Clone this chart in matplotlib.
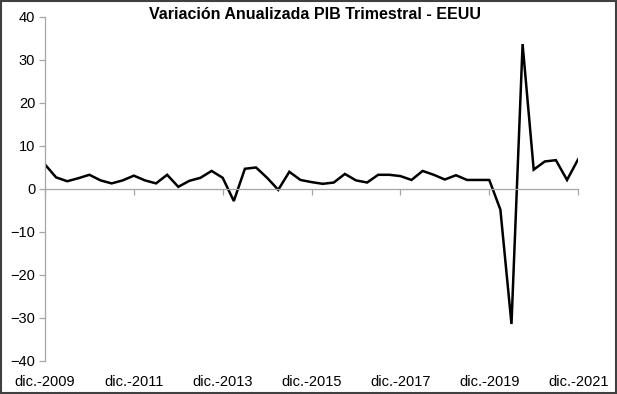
import numpy as np
import matplotlib
matplotlib.use('Agg')
import matplotlib.pyplot as plt
from matplotlib.patches import Rectangle

plt.rcParams['font.family'] = ['Liberation Sans', 'DejaVu Sans']

# quarterly annualized GDP change, dic.-2009 .. dic.-2021
pib = [5.7, 2.7, 1.8, 2.5, 3.3, 2.0, 1.3, 2.0, 3.1, 2.0, 1.3, 3.3,
       0.5, 1.9, 2.6, 4.2, 2.6, -2.8, 4.7, 5.0, 2.6, -0.2, 4.0, 2.1,
       1.6, 1.2, 1.5, 3.5, 2.0, 1.5, 3.3, 3.3, 3.0, 2.1, 4.2, 3.3,
       2.2, 3.2, 2.1, 2.1, 2.1, -4.8, -31.4, 33.7, 4.5, 6.4, 6.7, 2.1, 6.9]
etiquetas = ['dic.-2009', 'dic.-2011', 'dic.-2013', 'dic.-2015',
             'dic.-2017', 'dic.-2019', 'dic.-2021']
x = np.arange(len(pib))
pos_etiq = x[::8]

fig = plt.figure(figsize=(6.17, 3.94), dpi=100)
ax = fig.add_axes([0.0729, 0.0838, 0.8641, 0.8731])

ax.plot(x, pib, color='black', linewidth=1.8, solid_joinstyle='miter')

ax.set_xlim(0, len(pib) - 1)
ax.set_ylim(-40, 40)
ax.set_yticks(np.arange(-40, 41, 10))

gris = '#a6a6a6'
ax.spines['top'].set_visible(False)
ax.spines['right'].set_visible(False)
ax.spines['bottom'].set_position(('data', 0))
ax.spines['bottom'].set_color(gris)
ax.spines['left'].set_color(gris)
ax.spines['bottom'].set_linewidth(0.9)
ax.spines['left'].set_linewidth(0.9)

ax.set_xticks(pos_etiq)
ax.set_xticklabels([])
ax.tick_params(axis='x', direction='out', length=4, color=gris, width=0.9)
ax.tick_params(axis='y', direction='out', length=4, color=gris, width=0.9,
               labelsize=10.5, pad=3)

sec = ax.secondary_xaxis(0)
sec.set_xticks(pos_etiq)
sec.set_xticklabels(etiquetas)
sec.tick_params(length=0, labelsize=10.5, pad=10)
sec.spines['bottom'].set_visible(False)

fig.suptitle('Variación Anualizada PIB Trimestral - EEUU', x=0.51, y=0.983,
             fontsize=11.5, fontweight='bold')

fig.patches.append(Rectangle((0.002, 0.003), 0.996, 0.994, transform=fig.transFigure,
                             fill=False, edgecolor='#404040', linewidth=1.5))

fig.savefig('out.png', dpi=100)
